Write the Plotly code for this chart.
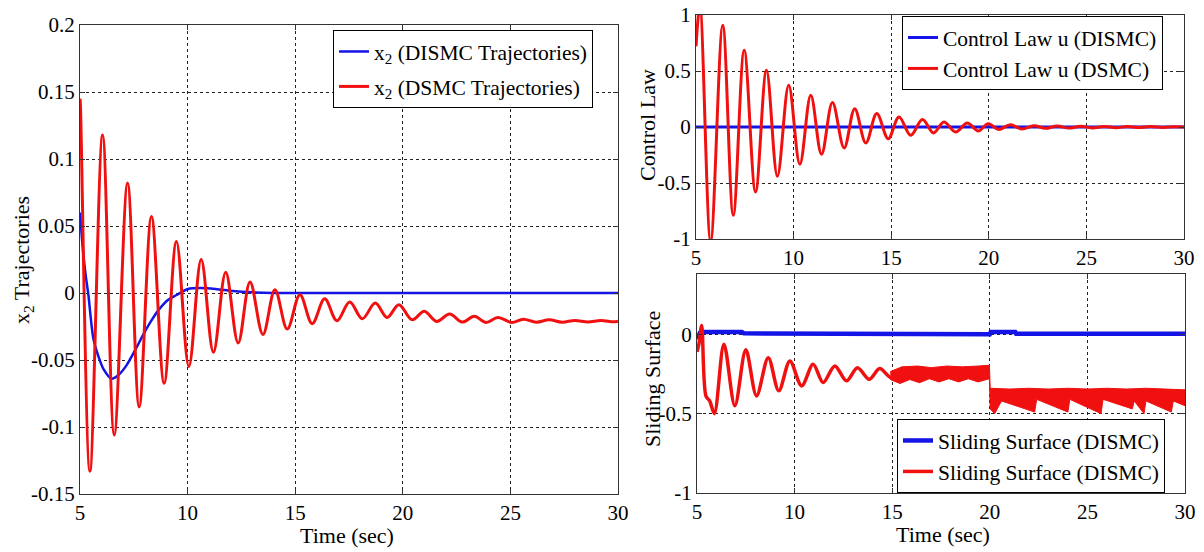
import plotly.graph_objects as go

# ---------------- data ----------------
# Left panel: x2 trajectories
t_x2_dsmc = [5.0, 5.02, 5.46, 6.05, 6.59, 7.21, 7.75, 8.32, 8.91, 9.48, 10.06, 10.63,
             11.2, 11.77, 12.35, 12.9, 13.5, 14.06, 14.63, 15.22, 15.79, 16.37, 16.94,
             17.53, 18.12, 18.72, 19.27, 19.82, 20.43, 21.0, 21.57, 22.18, 22.76, 23.32,
             23.87, 24.42, 25.06, 25.6, 26.2, 26.8, 27.4, 28.0, 28.6, 29.2, 29.8, 30.0]
x2_dsmc = [0.145, 0.14, -0.133, 0.118, -0.106, 0.082, -0.085, 0.057, -0.0674, 0.0385,
           -0.0548, 0.025, -0.0443, 0.0154, -0.0373, 0.0082, -0.031, 0.0025, -0.0269,
           -0.0013, -0.0229, -0.0043, -0.0207, -0.0067, -0.0192, -0.0075, -0.0182,
           -0.0087, -0.02, -0.0137, -0.0212, -0.0157, -0.0217, -0.0174, -0.022, -0.0182,
           -0.022, -0.0195, -0.0218, -0.0200, -0.0218, -0.0205, -0.0217, -0.0205,
           -0.0215, -0.021]

t_x2_dismc = [5.0, 5.12, 5.25, 5.39, 5.62, 5.85, 6.1, 6.47, 6.8, 7.16, 7.55, 7.94, 8.3,
              8.71, 9.1, 9.48, 10.02, 10.6, 11.3, 12.1, 13.0, 14.0, 17.0, 20.0, 25.0, 30.0]
x2_dismc = [0.06, 0.035, 0.015, -0.0015, -0.034, -0.047, -0.057, -0.064, -0.061, -0.054,
            -0.043, -0.031, -0.021, -0.0115, -0.005, -0.0015, 0.003, 0.0037, 0.003,
            0.0015, 0.0005, 0.0, 0.0, 0.0, 0.0, 0.0]

# Top right: control law
t_u_dsmc = [5.0, 5.2, 5.75, 6.37, 6.91, 7.47, 8.05, 8.61, 9.17, 9.75, 10.32, 10.88, 11.43,
            11.99, 12.59, 13.13, 13.7, 14.26, 14.85, 15.4, 16.0, 16.6, 17.17, 17.7, 18.3,
            18.9, 19.46, 19.97, 20.5, 21.1, 21.7, 22.3, 22.9, 23.5, 24.1, 24.7, 25.3,
            25.9, 26.5, 27.1, 27.7, 28.3, 28.9, 29.5, 30.0]
u_dsmc = [0.72, 1.08, -1.02, 0.908, -0.788, 0.685, -0.58, 0.506, -0.44, 0.372, -0.333,
          0.283, -0.244, 0.218, -0.1875, 0.164, -0.143, 0.12, -0.104, 0.09, -0.074, 0.066,
          -0.053, 0.045, -0.045, 0.036, -0.036, 0.03, -0.022, 0.02, -0.018, 0.012, -0.012,
          0.008, -0.01, 0.006, -0.008, 0.005, -0.006, 0.004, -0.005, 0.004, -0.004,
          0.003, 0.0]
t_u_dismc = [5.0, 10.0, 15.0, 20.0, 25.0, 30.0]
u_dismc = [0.0, 0.0, 0.0, 0.0, 0.0, 0.0]

# Bottom right: sliding surface
t_s_dsmc = [5.0, 5.1, 5.24, 5.46, 5.65, 5.89, 6.38, 6.94, 7.5, 8.05, 8.65, 9.19, 9.76,
            10.36, 10.95, 11.46, 12.06, 12.66, 13.22, 13.82, 14.36, 14.92, 15.3]
s_dsmc = [-0.11, -0.06, 0.055, -0.39, -0.42, -0.50, -0.063, -0.45, -0.098, -0.388,
          -0.147, -0.356, -0.168, -0.325, -0.189, -0.304, -0.199, -0.293, -0.21, -0.283,
          -0.216, -0.272, -0.25]
# chattering band (upper / lower edges)
t_s_upper = [14.9, 15.5, 16.3, 17.0, 17.8, 18.6, 19.4, 19.98, 20.02, 21.0, 22.0, 23.0,
             24.0, 25.0, 26.0, 27.0, 28.0, 29.0, 30.0]
s_upper = [-0.235, -0.205, -0.2, -0.21, -0.2, -0.205, -0.2, -0.195, -0.34, -0.345, -0.34,
           -0.345, -0.34, -0.345, -0.34, -0.345, -0.34, -0.345, -0.35]
t_s_lower = [14.9, 15.4, 15.9, 16.4, 16.9, 17.4, 17.9, 18.4, 18.9, 19.4, 19.98, 20.02,
             20.25, 20.6, 22.3, 22.4, 24.0, 24.1, 25.7, 25.8, 27.3, 27.4, 27.9, 28.0,
             29.3, 29.4, 30.0]
s_lower = [-0.285, -0.31, -0.285, -0.305, -0.28, -0.30, -0.28, -0.30, -0.28, -0.30,
           -0.28, -0.47, -0.50, -0.42, -0.49, -0.41, -0.49, -0.41, -0.50, -0.41, -0.47,
           -0.42, -0.50, -0.42, -0.49, -0.42, -0.45]

t_s_dismc = [5.0, 5.15, 5.3, 7.3, 7.4, 8.8, 8.9, 20.0, 20.05, 21.3, 21.35, 30.0]
s_dismc = [-0.03, 0.01, 0.015, 0.015, 0.006, 0.006, 0.0, 0.0, 0.015, 0.015, 0.004, 0.004]

x_ticks = [5, 10, 15, 20, 25, 30]
x_ticklabels = ["5", "10", "15", "20", "25", "30"]
x2_ticks = [0.2, 0.15, 0.1, 0.05, 0, -0.05, -0.1, -0.15]
x2_ticklabels = ["0.2", "0.15", "0.1", "0.05", "0", "-0.05", "-0.1", "-0.15"]
u_ticks = [1, 0.5, 0, -0.5, -1]
u_ticklabels = ["1", "0.5", "0", "-0.5", "-1"]
s_ticks = [0, -0.5, -1]
s_ticklabels = ["0", "-0.5", "-1"]

# ---------------- styling ----------------
# the page body has an 8px margin, so the figure is placed at (8, 8) in the window
OFF = 8
W, H = 1204 - OFF, 552 - OFF
BLUE = "#1414e6"
RED = "#f01010"
FONT = "Liberation Serif"


def px_x(p):
    return (p - OFF) / W


def px_y(p):
    return 1 - (p - OFF) / H


fig = go.Figure()

# left panel
fig.add_trace(go.Scatter(x=t_x2_dismc, y=x2_dismc, mode="lines",
                         line=dict(color=BLUE, width=2.5, shape="spline", smoothing=0.8),
                         name="x<sub>2</sub> (DISMC Trajectories)", legendgroup="a",
                         xaxis="x", yaxis="y", legend="legend"))
fig.add_trace(go.Scatter(x=t_x2_dsmc, y=x2_dsmc, mode="lines",
                         line=dict(color=RED, width=3, shape="spline", smoothing=1),
                         name="x<sub>2</sub> (DSMC Trajectories)", legendgroup="b",
                         xaxis="x", yaxis="y", legend="legend"))

# top right
fig.add_trace(go.Scatter(x=t_u_dismc, y=u_dismc, mode="lines",
                         line=dict(color=BLUE, width=3),
                         name="Control Law u (DISMC)",
                         xaxis="x2", yaxis="y2", legend="legend2"))
fig.add_trace(go.Scatter(x=t_u_dsmc, y=u_dsmc, mode="lines",
                         line=dict(color=RED, width=3, shape="spline", smoothing=1),
                         name="Control Law u (DSMC)",
                         xaxis="x2", yaxis="y2", legend="legend2"))

# bottom right
fig.add_trace(go.Scatter(x=t_s_dismc, y=s_dismc, mode="lines",
                         line=dict(color=BLUE, width=4.5),
                         name="Sliding Surface (DISMC)",
                         xaxis="x3", yaxis="y3", legend="legend3"))
fig.add_trace(go.Scatter(x=t_s_dsmc, y=s_dsmc, mode="lines",
                         line=dict(color=RED, width=3.5, shape="spline", smoothing=0.9),
                         name="Sliding Surface (DISMC)",
                         xaxis="x3", yaxis="y3", legend="legend3"))
fig.add_trace(go.Scatter(x=t_s_upper + t_s_lower[::-1], y=s_upper + s_lower[::-1],
                         mode="lines", fill="toself", fillcolor=RED,
                         line=dict(color=RED, width=1), showlegend=False,
                         hoverinfo="skip", xaxis="x3", yaxis="y3"))

axis_common = dict(showline=True, linecolor="#333333", linewidth=1.2, mirror="allticks",
                   ticks="inside", ticklen=5, tickcolor="#333333", automargin=False,
                   ticklabeloverflow="allow",
                   showgrid=True, gridcolor="#222222", gridwidth=1, griddash="dot",
                   zeroline=False, tickfont=dict(family=FONT, size=21, color="black"))

legend_common = dict(xanchor="left", bgcolor="white", bordercolor="black",
                     borderwidth=1, font=dict(family=FONT, size=21.5, color="black"))

fig.update_layout(
    template="none",
    width=W, height=H, autosize=False,
    margin=dict(l=0, r=0, t=0, b=0, pad=0),
    paper_bgcolor="white", plot_bgcolor="white",
    font=dict(family=FONT, color="black"),
    xaxis=dict(domain=[px_x(80), px_x(618)], range=[5, 30], tickvals=x_ticks,
               ticktext=x_ticklabels, anchor="y", **axis_common),
    yaxis=dict(domain=[px_y(494), px_y(25)], range=[-0.15, 0.2], tickvals=x2_ticks,
               ticktext=x2_ticklabels, anchor="x", **axis_common),
    xaxis2=dict(domain=[px_x(696), px_x(1184)], range=[5, 30], tickvals=x_ticks,
                ticktext=x_ticklabels, anchor="y2", **axis_common),
    yaxis2=dict(domain=[px_y(239), px_y(15)], range=[-1, 1], tickvals=u_ticks,
                ticktext=u_ticklabels, anchor="x2", **axis_common),
    xaxis3=dict(domain=[px_x(697), px_x(1185)], range=[5, 30], tickvals=x_ticks,
                ticktext=x_ticklabels, anchor="y3", **axis_common),
    yaxis3=dict(domain=[px_y(493), px_y(274)], range=[-1, 0.38], tickvals=s_ticks,
                ticktext=s_ticklabels, anchor="x3", **axis_common),
    legend=dict(x=px_x(333), y=px_y(30), yanchor="top", tracegroupgap=4,
                traceorder="grouped", **legend_common),
    legend2=dict(x=px_x(902), y=px_y(16), yanchor="top", **legend_common),
    legend3=dict(x=px_x(897), y=px_y(493), yanchor="bottom", **legend_common),
    showlegend=True,
)

title_font = dict(family=FONT, size=22, color="black")
ann = dict(xref="paper", yref="paper", showarrow=False, font=title_font,
           xanchor="center", yanchor="middle")
fig.add_annotation(text="x<sub>2</sub> Trajectories", textangle=-90, x=px_x(23),
                   y=px_y(260), **ann)
fig.add_annotation(text="Time (sec)", x=px_x(347), y=px_y(535), **ann)
fig.add_annotation(text="Control Law", textangle=-90, x=px_x(647), y=px_y(125), **ann)
fig.add_annotation(text="Sliding Surface", textangle=-90, x=px_x(652), y=px_y(379), **ann)
fig.add_annotation(text="Time (sec)", x=px_x(943), y=px_y(534), **ann)

fig.write_html("out.html")
